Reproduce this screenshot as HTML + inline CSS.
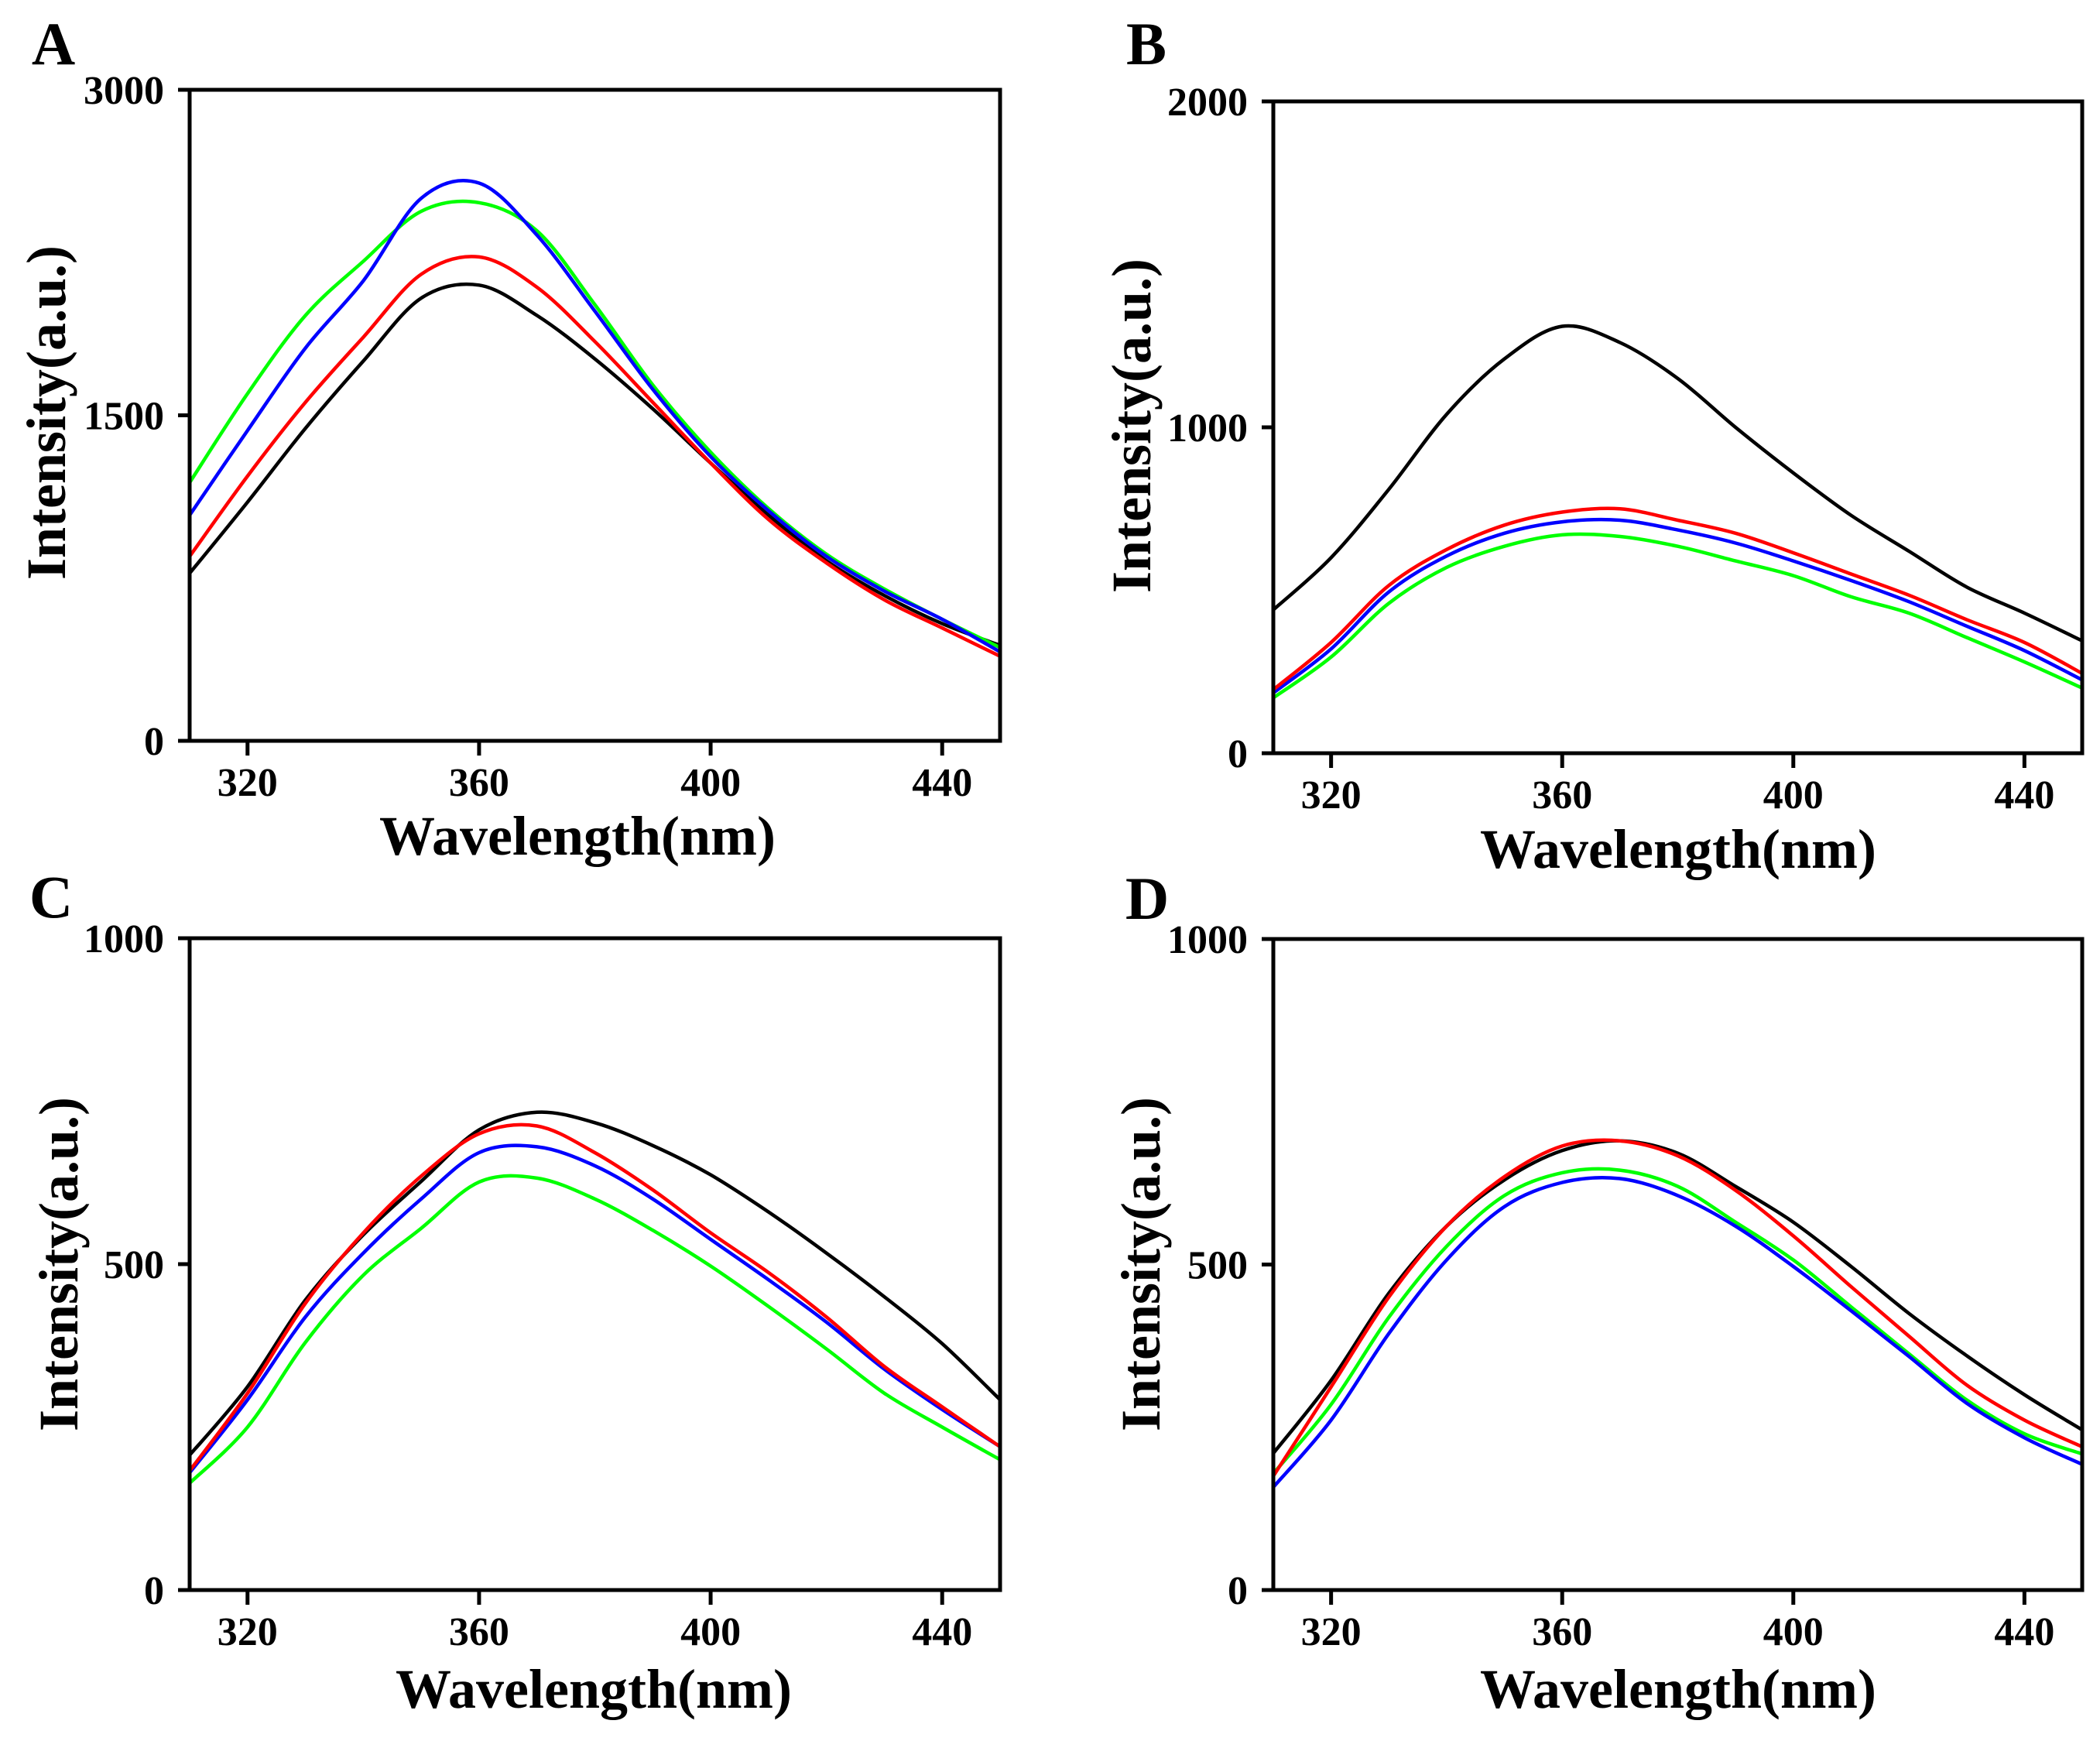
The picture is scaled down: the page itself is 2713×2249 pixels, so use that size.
<!DOCTYPE html>
<html><head><meta charset="utf-8"><style>
html,body{margin:0;padding:0;background:#fff;}
svg text{font-family:"Liberation Serif",serif;font-weight:bold;fill:#000;}
</style></head><body>
<svg id="fig" width="2713" height="2244" viewBox="0 0 2713 2244" xmlns="http://www.w3.org/2000/svg"></svg>
<script>
const wavelengths=[310,320,330,340,350,360,370,380,390,400,410,420,430,440,450];
const xTicks=[320,360,400,440];
// Panel A
const aBlack=[772,1100,1440,1750,2040,2100,1960,1760,1530,1280,1040,830,670,540,440];
const aRed=[850,1220,1560,1860,2150,2230,2090,1840,1560,1280,1020,820,650,520,390];
const aBlue=[1040,1430,1810,2120,2500,2570,2330,1980,1620,1310,1060,850,690,560,410];
const aGreen=[1190,1600,1960,2210,2440,2480,2350,2010,1640,1330,1070,860,700,560,430];
const aTicks=[0,1500,3000];
// Panel B
const bBlack=[440,600,810,1040,1210,1310,1260,1150,1000,860,730,620,510,430,345];
const bRed=[195,340,515,625,700,740,750,715,675,615,550,485,410,340,245];
const bBlue=[185,320,495,605,675,710,715,685,645,590,530,465,390,315,225];
const bGreen=[170,295,460,570,635,670,665,635,590,545,480,430,355,280,200];
const bTicks=[0,1000,2000];
// Panel C
const cBlack=[207,312,445,545,627,706,733,717,682,637,580,517,450,378,292];
const cRed=[183,302,440,548,635,700,712,671,614,548,487,419,343,281,220];
const cBlue=[180,292,419,517,600,671,680,651,600,538,476,411,339,277,220];
const cGreen=[164,250,380,483,555,626,632,600,552,497,435,370,302,250,200];
const cTicks=[0,500,1000];
// Panel D
const dBlack=[210,322,456,559,630,675,690,671,620,565,497,425,360,300,246];
const dRed=[175,312,450,559,635,682,690,667,614,544,466,390,315,261,220];
const dGreen=[179,285,419,528,606,641,645,620,565,507,435,363,292,240,209];
const dBlue=[158,261,394,507,589,626,632,606,559,497,429,359,287,234,193];
const dTicks=[0,500,1000];

const NS="http://www.w3.org/2000/svg";
const svg=document.getElementById('fig');
function mk(tag,attrs,parent,txt){const e=document.createElementNS(NS,tag);for(const k in attrs)e.setAttribute(k,attrs[k]);if(txt!==undefined)e.textContent=txt;(parent||svg).appendChild(e);return e;}
function smoothPath(pts){let d='M'+pts[0][0].toFixed(1)+','+pts[0][1].toFixed(1);
 for(let i=0;i<pts.length-1;i++){const p0=pts[Math.max(0,i-1)],p1=pts[i],p2=pts[i+1],p3=pts[Math.min(pts.length-1,i+2)];
  const c1=[p1[0]+(p2[0]-p0[0])/6,p1[1]+(p2[1]-p0[1])/6],c2=[p2[0]-(p3[0]-p1[0])/6,p2[1]-(p3[1]-p1[1])/6];
  d+=' C'+c1[0].toFixed(1)+','+c1[1].toFixed(1)+' '+c2[0].toFixed(1)+','+c2[1].toFixed(1)+' '+p2[0].toFixed(1)+','+p2[1].toFixed(1);}
 return d;}
function panel(id,box,yTicks,series,letter,letterPos,xTitlePos,yTitlePos){
 const g=mk('g',{});
 
 
 const [L,T,R,B]=box;const ymax=yTicks[yTicks.length-1];
 const xs=v=>L+(v-310)/(450-310)*(R-L);
 const ys=v=>B-v/ymax*(B-T);
 series.forEach(s=>{
  const p=mk('path',{d:smoothPath(wavelengths.map((w,i)=>[xs(w),ys(s.data[i])])),fill:'none',stroke:s.color,'stroke-width':4.5,'stroke-linejoin':'round'},g);
  
  
 });
 const fr=mk('rect',{x:L,y:T,width:R-L,height:B-T,fill:'none',stroke:'#000','stroke-width':5},g);
 
 
 xTicks.forEach(t=>{
  const x=xs(t);
  mk('line',{x1:x,y1:B,x2:x,y2:B+19,stroke:'#000','stroke-width':5},g);
  const tl=mk('text',{x:x,y:B+71,'font-size':52,'text-anchor':'middle'},g,String(t));
  
  
 });
 yTicks.forEach(t=>{
  const y=ys(t);
  mk('line',{x1:L-15,y1:y,x2:L,y2:y,stroke:'#000','stroke-width':5},g);
  const tl=mk('text',{x:L-33,y:y+18,'font-size':52,'text-anchor':'end'},g,String(t));
  
  
 });
 const xt=mk('text',{x:xTitlePos[0],y:xTitlePos[1],'font-size':72,'text-anchor':'middle'},g,'Wavelength(nm)');
 
 
 const yt=mk('text',{x:0,y:0,'font-size':72,'text-anchor':'middle',transform:'translate('+yTitlePos[0]+','+yTitlePos[1]+') rotate(-90)'},g,'Intensity(a.u.)');
 
 
 const lt=mk('text',{x:letterPos[0],y:letterPos[1],'font-size':78,'text-anchor':'middle'},g,letter);
 
 
}
panel('a',[245,116,1292,957],aTicks,[{name:'black',color:'#000',data:aBlack},{name:'red',color:'#f00',data:aRed},{name:'green',color:'#0f0',data:aGreen},{name:'blue',color:'#00f',data:aBlue}],'A',[69,83],[746,1104],[84,533]);
panel('b',[1645,131,2690,973],bTicks,[{name:'black',color:'#000',data:bBlack},{name:'green',color:'#0f0',data:bGreen},{name:'blue',color:'#00f',data:bBlue},{name:'red',color:'#f00',data:bRed}],'B',[1481,83],[2168,1121],[1486,550]);
panel('c',[245,1212,1292,2054],cTicks,[{name:'black',color:'#000',data:cBlack},{name:'green',color:'#0f0',data:cGreen},{name:'blue',color:'#00f',data:cBlue},{name:'red',color:'#f00',data:cRed}],'C',[66,1185],[767,2206],[100,1633]);
panel('d',[1645,1213,2690,2054],dTicks,[{name:'black',color:'#000',data:dBlack},{name:'green',color:'#0f0',data:dGreen},{name:'blue',color:'#00f',data:dBlue},{name:'red',color:'#f00',data:dRed}],'D',[1482,1187],[2168,2206],[1498,1633]);
</script>
</body></html>
